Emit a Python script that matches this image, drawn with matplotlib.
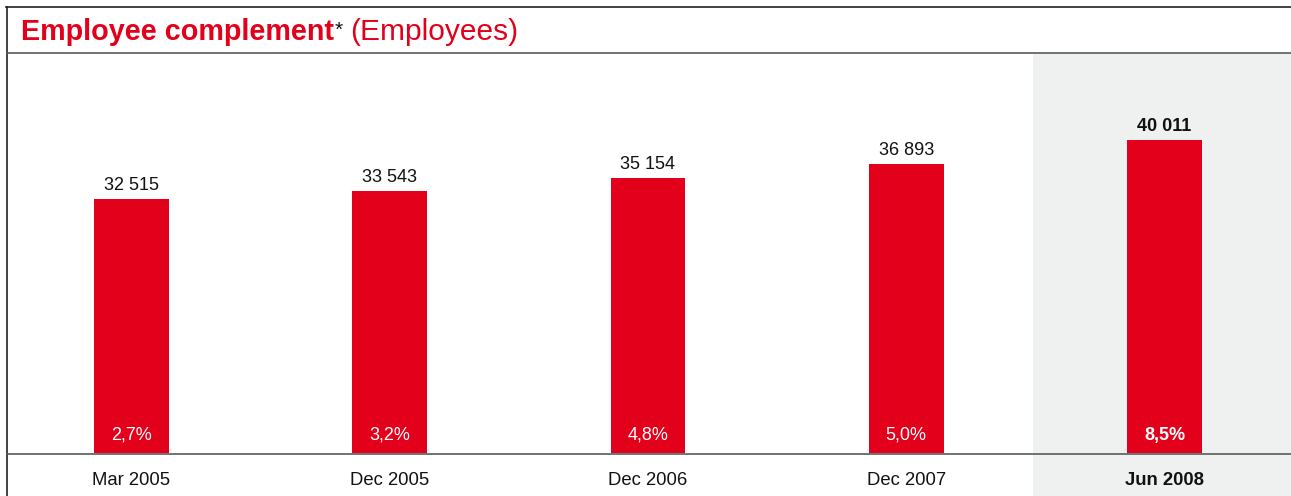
import matplotlib
matplotlib.use("Agg")
import matplotlib.pyplot as plt
from matplotlib.patches import Rectangle
from matplotlib.lines import Line2D
from matplotlib.transforms import blended_transform_factory

# Data
periods = ["Mar 2005", "Dec 2005", "Dec 2006", "Dec 2007", "Jun 2008"]
employees = [32515, 33543, 35154, 36893, 40011]
growth_labels = ["2,7%", "3,2%", "4,8%", "5,0%", "8,5%"]

RED = "#E2001A"
GREY_BG = "#EFF0F0"
LINE = "#5a5a5a"

plt.rcParams["font.family"] = ["Liberation Sans", "DejaVu Sans"]

W, H = 1291, 496
fig = plt.figure(figsize=(W / 100, H / 100), dpi=100)
fig.patch.set_facecolor("white")

def fx(px):
    return px / W

def fy(py):
    return 1 - py / H

left_px, top_px, base_px = 7, 53, 453
ax = fig.add_axes([fx(left_px), fy(base_px), fx(W - left_px), (base_px - top_px) / H])
ax.patch.set_visible(False)
for s in ax.spines.values():
    s.set_visible(False)
ax.set_xticks([])
ax.set_yticks([])

x = list(range(len(periods)))
ax.set_xlim(-0.482, 4.49)
ax.set_ylim(0, 51150)

# Highlight band behind the latest period (extends below the axis into the label strip)
blend = blended_transform_factory(ax.transData, fig.transFigure)
ax.add_patch(Rectangle((3.49, 0), 4.49 - 3.49, fy(top_px), transform=blend,
                       facecolor=GREY_BG, edgecolor="none", clip_on=False, zorder=0))

ax.bar(x, employees, width=0.29, color=RED, zorder=2)

def fmt(v):
    return f"{v:,}".replace(",", " ")

for i, (v, g, p) in enumerate(zip(employees, growth_labels, periods)):
    last = i == len(periods) - 1
    w = "bold" if last else "normal"
    ax.annotate(fmt(v), (i, v), xytext=(0, 9), textcoords="offset pixels",
                ha="center", va="baseline", fontsize=13, fontweight=w, color="#111111", zorder=3)
    ax.annotate(g, (i, 0), xytext=(0, 13), textcoords="offset pixels",
                ha="center", va="baseline", fontsize=13, fontweight=w, color="white", zorder=3)
    ax.annotate(p, (i, 0), xytext=(0, -32), textcoords="offset pixels",
                ha="center", va="baseline", fontsize=13.3, fontweight=w, color="#111111",
                annotation_clip=False)

# Frame lines
fig.add_artist(Line2D([fx(6), 1], [fy(7), fy(7)], color="#222222", lw=1.2))
fig.add_artist(Line2D([fx(6.5), fx(6.5)], [0, fy(7)], color="#222222", lw=1.2))
fig.add_artist(Line2D([fx(7), 1], [fy(52.5), fy(52.5)], color=LINE, lw=1.2))
fig.add_artist(Line2D([fx(7), 1], [fy(453.5), fy(453.5)], color=LINE, lw=1.2))

# Title pieces
t1 = fig.text(fx(21), fy(39.5), "Employee complement", fontsize=20.7, fontweight="bold",
              color=RED, va="baseline", ha="left")
fig.canvas.draw()
r = fig.canvas.get_renderer()
bb = t1.get_window_extent(r)
t2 = fig.text(bb.x1 / W + fx(1), fy(36), "*", fontsize=15, color="#111111",
              va="baseline", ha="left")
bb2 = t2.get_window_extent(r)
fig.text(bb2.x1 / W + fx(7), fy(39.5), "(Employees)", fontsize=21.5, color=RED,
         va="baseline", ha="left")

fig.savefig("out.png", dpi=100)
